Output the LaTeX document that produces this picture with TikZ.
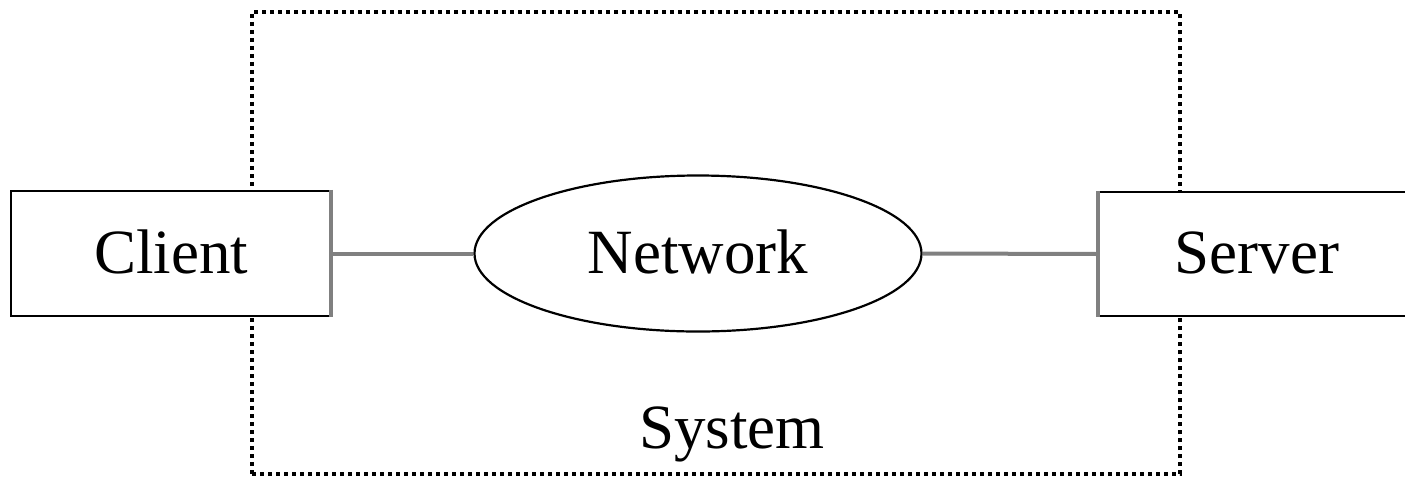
\documentclass[tikz,border=0pt]{standalone}
\usepackage{fontspec}
\setmainfont{Liberation Serif}
\usetikzlibrary{shapes.geometric}
\begin{document}
\begin{tikzpicture}[x=1pt,y=-1pt,
  lbl/.style={anchor=base,font=\fontsize{63}{72}\selectfont},
  box/.style={draw=black,line width=2.2pt,rectangle,inner sep=0pt},
  cloud/.style={draw=black,line width=2.2pt,ellipse,inner sep=0pt},
  link/.style={draw=black!50,line width=4pt},
  sysframe/.style={draw=black,line width=4pt,dash pattern=on 4pt off 4pt}]
\useasboundingbox (0,0) rectangle (1405,480);
\node[sysframe,rectangle,minimum width=928pt,minimum height=462pt,inner sep=0pt] (sys) at (716,243) {};
\node[lbl] (syslabel) at (732,448) {System};
\node[box,fill=white,minimum width=319pt,minimum height=125pt] (client) at (170.5,253.5) {};
\node[lbl] (clienttext) at (171,273) {Client};
\node[box,fill=white,minimum width=320pt,minimum height=124pt] (server) at (1259,254) {};
\node[lbl] (servertext) at (1257,273) {Server};
\node[cloud,fill=white,minimum width=447pt,minimum height=156pt] (net) at (698,253.5) {};
\node[lbl] (nettext) at (698,273) {Network};
\draw[link] (client.east) -- (net.west);
\draw[link] (net.east) -- (server.west);
\draw[link] (client.north east) -- (client.south east);
\draw[link] (server.north west) -- (server.south west);
\end{tikzpicture}
\end{document}
